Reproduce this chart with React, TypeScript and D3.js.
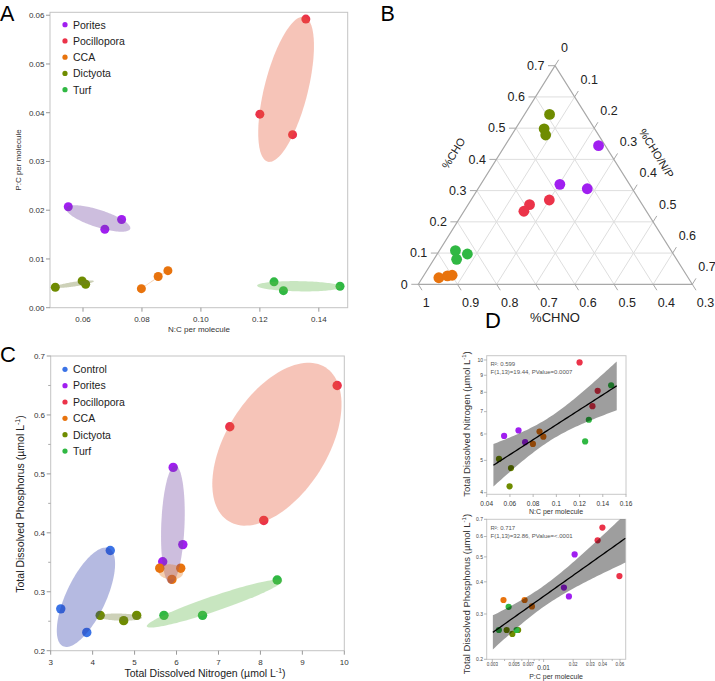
import React from 'react';
import * as d3 from 'd3';

const FONT = "'Liberation Sans', Arial, Helvetica, sans-serif";

// ---------- groups & colours ----------
const groupsA = ['Porites', 'Pocillopora', 'CCA', 'Dictyota', 'Turf'];
const groupsC = ['Control', 'Porites', 'Pocillopora', 'CCA', 'Dictyota', 'Turf'];
const pointColors: Record<string, string> = {
  Control: '#3b73e6', Porites: '#a01ff0', Pocillopora: '#eb3349',
  CCA: '#e8730d', Dictyota: '#6f8c00', Turf: '#30b843',
};
const ellipseTints: Record<string, string> = {
  Control: '#2a3aa8', Porites: '#7045a1', Pocillopora: '#e55634',
  CCA: '#e2761d', Dictyota: '#707c34', Turf: '#62b84b',
};

// ---------- per-sample data (panels A, C, D) ----------
const sampleGroup = ['Porites', 'Porites', 'Porites', 'Pocillopora', 'Pocillopora', 'Pocillopora',
  'CCA', 'CCA', 'CCA', 'Dictyota', 'Dictyota', 'Dictyota', 'Turf', 'Turf', 'Turf'];
const ncPerMolecule = [0.0550, 0.0674, 0.0731, 0.1200, 0.1356, 0.1311, 0.0798, 0.0855, 0.0888,
  0.0506, 0.0609, 0.0597, 0.1472, 0.1280, 0.1248];
const pcPerMolecule = [0.0207, 0.0161, 0.0181, 0.0397, 0.0592, 0.0355, 0.0039, 0.0064, 0.0076,
  0.0042, 0.0048, 0.0055, 0.0044, 0.0035, 0.0053];
const tdnUmol = [5.92, 6.15, 5.67, 9.83, 8.08, 7.27, 5.60, 6.10, 5.89, 5.05, 4.74, 4.18, 8.40, 6.62, 5.70];
const tdpUmol = [0.511, 0.380, 0.351, 0.650, 0.421, 0.580, 0.340, 0.340, 0.321, 0.260, 0.251, 0.260,
  0.320, 0.260, 0.260];
const controlTDN = [3.24, 3.86, 4.42];
const controlTDP = [0.271, 0.231, 0.370];

// ---------- ternary data (panel B) ----------
const ternGroup = ['Dictyota', 'Dictyota', 'Dictyota', 'Porites', 'Porites', 'Porites',
  'Pocillopora', 'Pocillopora', 'Pocillopora', 'Turf', 'Turf', 'Turf', 'CCA', 'CCA', 'CCA'];
const ternCHO = [0.544, 0.498, 0.478, 0.444, 0.320, 0.306, 0.270, 0.255, 0.234, 0.108, 0.080, 0.097,
  0.021, 0.027, 0.029];
const ternCHONP = [0.064, 0.073, 0.087, 0.239, 0.202, 0.279, 0.200, 0.157, 0.153, 0.041, 0.058, 0.077,
  0.042, 0.061, 0.072];
const ternCHNO = [0.392, 0.429, 0.435, 0.317, 0.478, 0.415, 0.530, 0.588, 0.613, 0.851, 0.862, 0.826,
  0.937, 0.912, 0.899];

// ---------- ticks ----------
const aXTicks = [0.06, 0.08, 0.10, 0.12, 0.14];
const aYTicks = [0, 0.01, 0.02, 0.03, 0.04, 0.05, 0.06];
const cXTicks = [3, 4, 5, 6, 7, 8, 9, 10];
const cYTicks = [0.2, 0.3, 0.4, 0.5, 0.6, 0.7];
const cYMinor = [0.25, 0.35, 0.45, 0.55, 0.65];
const ternTicks = [0, 0.1, 0.2, 0.3, 0.4, 0.5, 0.6, 0.7];
const ternGrid = [0.1, 0.2, 0.3, 0.4, 0.5, 0.6];
const dTopXTicks = [0.04, 0.06, 0.08, 0.1, 0.12, 0.14, 0.16];
const dTopYTicks = [4, 5, 6, 7, 8, 9, 10];
const dBotXTicks = [0.003, 0.004, 0.005, 0.006, 0.007, 0.008, 0.009, 0.01, 0.02, 0.03, 0.04, 0.05, 0.06];
const dBotXLabels = [0.003, 0.005, 0.007, 0.02, 0.03, 0.04, 0.06];
const dBotYTicks = [0.2, 0.3, 0.4, 0.5, 0.6, 0.7];
const dTopStats = ['R\u00b2: 0.599', 'F(1,13)=19.44, PValue=0.0007'];
const dBotStats = ['R\u00b2: 0.717', 'F(1,13)=32.86, PValue=<.0001'];

// ---------- helpers ----------
const K50 = Math.sqrt(-2 * Math.log(0.5));
function ellipsePath(px: number[], py: number[]): string {
  const n = px.length;
  const mx = d3.mean(px)!, my = d3.mean(py)!;
  let sxx = 0, syy = 0, sxy = 0;
  for (let i = 0; i < n; i++) {
    const dx = px[i] - mx, dy = py[i] - my;
    sxx += dx * dx; syy += dy * dy; sxy += dx * dy;
  }
  sxx /= n - 1; syy /= n - 1; sxy /= n - 1;
  const tr = sxx + syy, det = sxx * syy - sxy * sxy;
  const disc = Math.sqrt(Math.max(0, tr * tr / 4 - det));
  const l1 = tr / 2 + disc, l2 = Math.max(1e-6, tr / 2 - disc);
  const th = Math.abs(sxy) < 1e-12 ? (sxx >= syy ? 0 : Math.PI / 2) : Math.atan2(l1 - sxx, sxy);
  const a = K50 * Math.sqrt(l1), b = K50 * Math.sqrt(l2);
  const pts: [number, number][] = d3.range(0, 2 * Math.PI, Math.PI / 60).map(t => [
    mx + a * Math.cos(t) * Math.cos(th) - b * Math.sin(t) * Math.sin(th),
    my + a * Math.cos(t) * Math.sin(th) + b * Math.sin(t) * Math.cos(th),
  ]);
  return d3.line().curve(d3.curveLinearClosed)(pts) || '';
}

function fit(xs: number[], ys: number[]) {
  const n = xs.length;
  const mx = d3.mean(xs)!, my = d3.mean(ys)!;
  let sxx = 0, sxy = 0, syy = 0;
  xs.forEach((x, i) => { sxx += (x - mx) ** 2; sxy += (x - mx) * (ys[i] - my); syy += (ys[i] - my) ** 2; });
  const b = sxy / sxx, a = my - b * mx;
  const s = Math.sqrt((syy - b * sxy) / (n - 2));
  const t = 2.1604;
  const [lo, hi] = d3.extent(xs) as [number, number];
  const ext = (hi - lo) * 0.05;
  return d3.range(0, 61).map(i => {
    const x = lo - ext + (hi - lo + 2 * ext) * i / 60;
    const yh = a + b * x;
    const se = s * Math.sqrt(1 / n + (x - mx) ** 2 / sxx);
    return { x, y: yh, lo: yh - t * se, hi: yh + t * se };
  });
}

// ---------- scales ----------
const ax = d3.scaleLinear().domain([0.0488, 0.1498]).range([50, 347.7]);
const ay = d3.scaleLinear().domain([0, 0.0606]).range([307.7, 12.3]);
const cx = d3.scaleLinear().domain([3, 10]).range([50.7, 344.3]);
const cy = d3.scaleLinear().domain([0.2, 0.7]).range([650.7, 356]);
const dtx = d3.scaleLinear().domain([0.04, 0.16]).range([486.7, 626]);
const dty = d3.scaleLog().domain([3.956, 10.3]).range([494.3, 355.7]);
const dbx = d3.scaleLog().domain([0.00263, 0.0686]).range([486.7, 625.7]);
const dby = d3.scaleLog().domain([0.2, 0.7]).range([659.3, 519.3]);
// ternary: CHO -> vertical, CHO/N/P -> along base
const tY = d3.scaleLinear().domain([0, 0.7]).range([284.3, 65.7]);
const tXcho = d3.scaleLinear().domain([0, 0.7]).range([0, 136.7]);
const tXoth = d3.scaleLinear().domain([0, 0.7]).range([418.3, 692.3]);
const tern = (cho: number, oth: number): [number, number] => [tXoth(oth) + tXcho(cho), tY(cho)];

const fmt2 = d3.format('.2f');
const fmt1 = d3.format('.1f');

function Frame({ x0, x1, y0, y1, stroke = '#c4c4c4' }: any) {
  return <rect x={x0} y={y0} width={x1 - x0} height={y1 - y0} fill="none" stroke={stroke} strokeWidth={1} />;
}

function Legend({ items, x, y, step }: any) {
  return (
    <g>
      {items.map((g: string, i: number) => (
        <g key={g}>
          <circle cx={x} cy={y + i * step} r={2.6} fill={pointColors[g]} />
          <text x={x + 8} y={y + i * step + 3.8} fontSize={10.5} fill="#222" fontFamily={FONT}>{g}</text>
        </g>
      ))}
    </g>
  );
}

function PanelA() {
  const idx = d3.range(sampleGroup.length);
  return (
    <g>
      <Frame x0={50} x1={347.7} y0={12.3} y1={307.7} />
      {aYTicks.map(t => (
        <g key={t}>
          <line x1={46} x2={50} y1={ay(t)} y2={ay(t)} stroke="#999" />
          <text x={44.5} y={ay(t) + 2.8} fontSize={8} textAnchor="end" fill="#333" fontFamily={FONT}>{fmt2(t)}</text>
        </g>
      ))}
      {aXTicks.map(t => (
        <g key={t}>
          <line x1={ax(t)} x2={ax(t)} y1={307.7} y2={311.7} stroke="#999" />
          <text x={ax(t)} y={322} fontSize={8} textAnchor="middle" fill="#333" fontFamily={FONT}>{fmt2(t)}</text>
        </g>
      ))}
      <text x={199} y={332} fontSize={8} textAnchor="middle" fill="#333" fontFamily={FONT}>N:C per molecule</text>
      <text transform="translate(20.5,160) rotate(-90)" fontSize={8} textAnchor="middle" fill="#333" fontFamily={FONT}>P:C per molecule</text>
      {idx.map(i => (
        <circle key={i} cx={ax(ncPerMolecule[i])} cy={ay(pcPerMolecule[i])} r={4.5} fill={pointColors[sampleGroup[i]]} />
      ))}
      {groupsA.map(g => {
        const ii = idx.filter(i => sampleGroup[i] === g);
        return <path key={g} d={ellipsePath(ii.map(i => ax(ncPerMolecule[i])), ii.map(i => ay(pcPerMolecule[i])))}
          fill={ellipseTints[g]} fillOpacity={0.35} />;
      })}
      <Legend items={groupsA} x={65} y={24.7} step={16.25} />
      <text x={0} y={20.5} fontSize={21.5} fill="#000" fontFamily={FONT}>A</text>
    </g>
  );
}

function PanelC() {
  const idx = d3.range(sampleGroup.length);
  const byGroup = (g: string) => g === 'Control'
    ? { xs: controlTDN, ys: controlTDP }
    : { xs: idx.filter(i => sampleGroup[i] === g).map(i => tdnUmol[i]), ys: idx.filter(i => sampleGroup[i] === g).map(i => tdpUmol[i]) };
  return (
    <g>
      <Frame x0={50.7} x1={344.3} y0={356} y1={650.7} />
      {cYTicks.map(t => (
        <g key={t}>
          <line x1={46.7} x2={50.7} y1={cy(t)} y2={cy(t)} stroke="#999" />
          <text x={45} y={cy(t) + 2.8} fontSize={8} textAnchor="end" fill="#333" fontFamily={FONT}>{fmt1(t)}</text>
        </g>
      ))}
      {cYMinor.map(t => <line key={t} x1={48.2} x2={50.7} y1={cy(t)} y2={cy(t)} stroke="#aaa" />)}
      {cXTicks.map(t => (
        <g key={t}>
          <line x1={cx(t)} x2={cx(t)} y1={650.7} y2={654.7} stroke="#999" />
          <text x={cx(t)} y={664.5} fontSize={8} textAnchor="middle" fill="#333" fontFamily={FONT}>{t}</text>
        </g>
      ))}
      <text x={205} y={677} fontSize={10.5} textAnchor="middle" fill="#222" fontFamily={FONT}>
        Total Dissolved Nitrogen (µmol L<tspan dy={-4} fontSize={7}>-1</tspan><tspan dy={4}>)</tspan>
      </text>
      <text transform="translate(23.5,504) rotate(-90)" fontSize={10.5} textAnchor="middle" fill="#222" fontFamily={FONT}>
        Total Dissolved Phosphorus (µmol L<tspan dy={-4} fontSize={7}>-1</tspan><tspan dy={4}>)</tspan>
      </text>
      {groupsC.map(g => {
        const { xs, ys } = byGroup(g);
        return <g key={g}>{xs.map((x, k) => <circle key={k} cx={cx(x)} cy={cy(ys[k])} r={4.7} fill={pointColors[g]} />)}</g>;
      })}
      {groupsC.map(g => {
        const { xs, ys } = byGroup(g);
        return <path key={g} d={ellipsePath(xs.map(x => cx(x)), ys.map(y => cy(y)))} fill={ellipseTints[g]} fillOpacity={0.35} />;
      })}
      <Legend items={groupsC} x={65} y={369.3} step={16.35} />
      <text x={0} y={362} fontSize={22} fill="#000" fontFamily={FONT}>C</text>
    </g>
  );
}

function PanelB() {
  const L = tern(0, 0), T = tern(0.7, 0), R = tern(0, 0.7);
  const norm = (dx: number, dy: number) => { const l = Math.hypot(dx, dy); return [dx / l, dy / l]; };
  const [rdx, rdy] = norm(R[0] - T[0], R[1] - T[1]); // down-right
  const [ldx, ldy] = norm(T[0] - L[0], T[1] - L[1]); // up-right
  const ang = Math.atan2(T[1] - L[1], T[0] - L[0]) * 180 / Math.PI;
  const tl = 7;
  const gridStyle = { stroke: '#dedede', strokeWidth: 1 };
  return (
    <g fontFamily={FONT}>
      {ternGrid.map(v => {
        const a1 = tern(v, 0), a2 = tern(v, 0.7 - v);
        const b1 = tern(0, v), b2 = tern(0.7 - v, v);
        const c1 = tern(0, v), c2 = tern(v, 0);
        return (
          <g key={v}>
            <line x1={a1[0]} y1={a1[1]} x2={a2[0]} y2={a2[1]} {...gridStyle} />
            <line x1={b1[0]} y1={b1[1]} x2={b2[0]} y2={b2[1]} {...gridStyle} />
            <line x1={c1[0]} y1={c1[1]} x2={c2[0]} y2={c2[1]} {...gridStyle} />
          </g>
        );
      })}
      <path d={`M${L[0]},${L[1]}L${T[0]},${T[1]}L${R[0]},${R[1]}Z`} fill="none" stroke="#a8a8a8" strokeWidth={1.2} />
      {ternTicks.map(v => {
        const p = tern(v, 0);
        const q = tern(0, v);
        const r = tern(0.7 - v, v);
        return (
          <g key={v}>
            <line x1={p[0] - tl} y1={p[1]} x2={p[0]} y2={p[1]} stroke="#a8a8a8" />
            <text x={p[0] - 10.5} y={p[1] + 4.3} fontSize={12.5} textAnchor="end" fill="#222">{v === 0 ? '0' : fmt1(v)}</text>
            <line x1={q[0]} y1={q[1]} x2={q[0] + rdx * tl} y2={q[1] + rdy * tl} stroke="#a8a8a8" />
            <text x={q[0] + 4.5} y={307} fontSize={12.5} fill="#222">{v === 0 ? '1' : fmt1(1 - v)}</text>
            <line x1={r[0]} y1={r[1]} x2={r[0] + ldx * tl} y2={r[1] + ldy * tl} stroke="#a8a8a8" />
            <text x={r[0] + 6} y={r[1] - 13.3} fontSize={12.5} fill="#222">{v === 0 ? '0' : fmt1(v)}</text>
          </g>
        );
      })}
      <text transform={`translate(453.5,153.3) rotate(${ang})`} fontSize={11} textAnchor="middle" dy="0.35em" fill="#222">%CHO</text>
      <text transform={`translate(656.5,153.3) rotate(${-ang})`} fontSize={11} textAnchor="middle" dy="0.35em" fill="#222">%CHO/N/P</text>
      <text x={555} y={322} fontSize={13} textAnchor="middle" fill="#222">%CHNO</text>
      {ternGroup.map((g, i) => {
        const p = tern(ternCHO[i], ternCHONP[i]);
        return <circle key={i} cx={p[0]} cy={p[1]} r={5.4} fill={pointColors[g]} data-chno={ternCHNO[i]} />;
      })}
      <text x={380.5} y={20.5} fontSize={21.5} fill="#000">B</text>
    </g>
  );
}

function PanelD() {
  const idx = d3.range(sampleGroup.length);
  const topFit = fit(ncPerMolecule, tdnUmol.map(Math.log));
  const botFit = fit(pcPerMolecule.map(Math.log), tdpUmol.map(Math.log));
  const topArea = d3.area<any>().x(d => dtx(d.x)).y0(d => dty(Math.exp(d.lo))).y1(d => dty(Math.exp(d.hi)))(topFit) || '';
  const topLine = d3.line<any>().x(d => dtx(d.x)).y(d => dty(Math.exp(d.y)))(topFit) || '';
  const botArea = d3.area<any>().x(d => dbx(Math.exp(d.x))).y0(d => dby(Math.exp(d.lo))).y1(d => dby(Math.exp(d.hi)))(botFit) || '';
  const botLine = d3.line<any>().x(d => dbx(Math.exp(d.x))).y(d => dby(Math.exp(d.y)))(botFit) || '';
  const fmtX = (v: number) => String(v);
  return (
    <g fontFamily={FONT}>
      <defs>
        <clipPath id="clipDTop"><rect x={486.7} y={355.7} width={139.3} height={138.6} /></clipPath>
        <clipPath id="clipDBot"><rect x={486.7} y={519.3} width={139} height={140} /></clipPath>
      </defs>
      {/* top */}
      <Frame x0={486.7} x1={626} y0={355.7} y1={494.3} stroke="#c8c8c8" />
      {dTopYTicks.map(t => (
        <g key={t}>
          <line x1={484} x2={486.7} y1={dty(t)} y2={dty(t)} stroke="#999" strokeWidth={0.7} />
          <text x={483} y={dty(t) + 1.8} fontSize={5} textAnchor="end" fill="#444">{t}</text>
        </g>
      ))}
      {dTopXTicks.map(t => (
        <g key={t}>
          <line x1={dtx(t)} x2={dtx(t)} y1={494.3} y2={497} stroke="#999" strokeWidth={0.7} />
          <text x={dtx(t)} y={505.6} fontSize={6.5} textAnchor="middle" fill="#333">{fmtX(t)}</text>
        </g>
      ))}
      <text x={556} y={513.5} fontSize={7} textAnchor="middle" fill="#333">N:C per molecule</text>
      <text transform="translate(469.5,424) rotate(-90)" fontSize={9.5} textAnchor="middle" fill="#333">
        Total Dissolved Nitrogen (µmol L<tspan dy={-3.5} fontSize={6}>-1</tspan><tspan dy={3.5}>)</tspan>
      </text>
      <text x={490.5} y={365.5} fontSize={6} fill="#555">{dTopStats[0]}</text>
      <text x={490.5} y={373.8} fontSize={6} fill="#555">{dTopStats[1]}</text>
      <g clipPath="url(#clipDTop)">
        {idx.map(i => <circle key={i} cx={dtx(ncPerMolecule[i])} cy={dty(tdnUmol[i])} r={3.1} fill={pointColors[sampleGroup[i]]} />)}
        <path d={topArea} fill="#000" fillOpacity={0.38} />
        <path d={topLine} fill="none" stroke="#000" strokeWidth={1.3} />
      </g>
      {/* bottom */}
      <Frame x0={486.7} x1={625.7} y0={519.3} y1={659.3} stroke="#c8c8c8" />
      {dBotYTicks.map(t => (
        <g key={t}>
          <line x1={484} x2={486.7} y1={dby(t)} y2={dby(t)} stroke="#999" strokeWidth={0.7} />
          <text x={483} y={dby(t) + 1.8} fontSize={5} textAnchor="end" fill="#444">{fmt1(t)}</text>
        </g>
      ))}
      {dBotXTicks.map(t => (
        <line key={t} x1={dbx(t)} x2={dbx(t)} y1={659.3} y2={dBotXLabels.includes(t) || t === 0.01 ? 662 : 661} stroke="#999" strokeWidth={0.7} />
      ))}
      {dBotXLabels.map(t => (
        <text key={t} x={dbx(t)} y={665.8} fontSize={4.5} textAnchor="middle" fill="#444">{String(t)}</text>
      ))}
      <text x={dbx(0.01)} y={670} fontSize={6.5} textAnchor="middle" fill="#333">0.01</text>
      <text x={556} y={679} fontSize={7} textAnchor="middle" fill="#333">P:C per molecule</text>
      <text transform="translate(469.5,594) rotate(-90)" fontSize={9.5} textAnchor="middle" fill="#333">
        Total Dissolved Phosphorus (µmol L<tspan dy={-3.5} fontSize={6}>-1</tspan><tspan dy={3.5}>)</tspan>
      </text>
      <text x={490.5} y={529.5} fontSize={6} fill="#555">{dBotStats[0]}</text>
      <text x={490.5} y={537.6} fontSize={6} fill="#555">{dBotStats[1]}</text>
      <g clipPath="url(#clipDBot)">
        {idx.map(i => <circle key={i} cx={dbx(pcPerMolecule[i])} cy={dby(tdpUmol[i])} r={3.1} fill={pointColors[sampleGroup[i]]} />)}
        <path d={botArea} fill="#000" fillOpacity={0.38} />
        <path d={botLine} fill="none" stroke="#000" strokeWidth={1.3} />
      </g>
      <text x={485} y={328} fontSize={22} fill="#000">D</text>
    </g>
  );
}

export default function App() {
  return (
    <svg width={715} height={681} viewBox="0 0 715 681"
      style={{ position: 'absolute', left: 0, top: 0, background: '#fff' }}>
      <rect x={0} y={0} width={715} height={681} fill="#fff" />
      <PanelA />
      <PanelB />
      <PanelC />
      <PanelD />
    </svg>
  );
}
